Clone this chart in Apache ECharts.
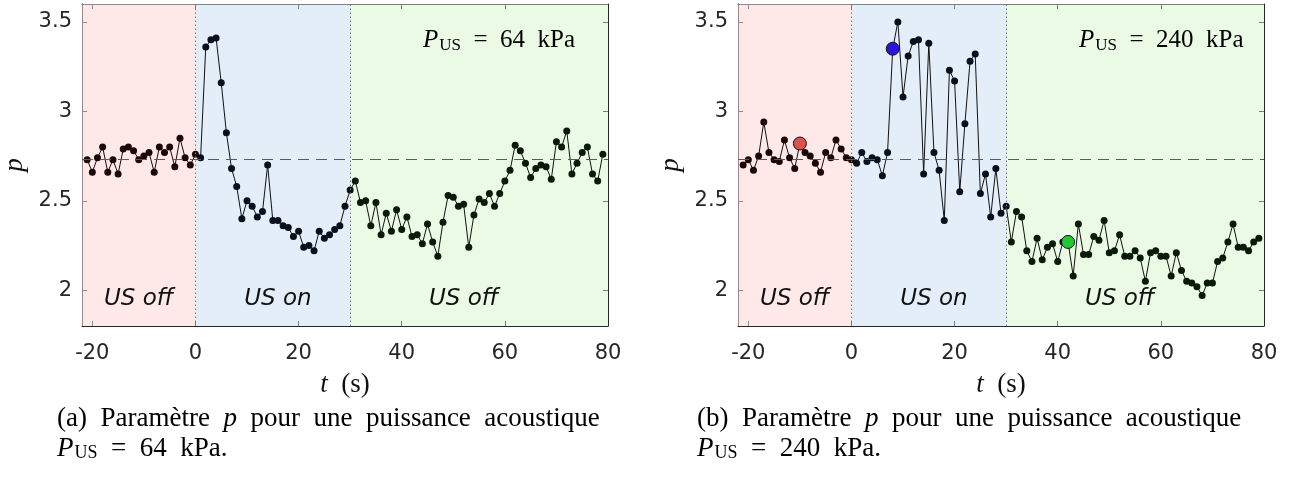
<!DOCTYPE html>
<html>
<head>
<meta charset="utf-8">
<script src="https://cdn.jsdelivr.net/npm/echarts@6/dist/echarts.min.js"></script>
<style>
html,body{margin:0;padding:0;background:#fff;}
#chart{width:1298px;height:479px;}
</style>
</head>
<body>
<div id="chart"></div>
<script>
// ---- data ----
const TIME = [-21,-20,-19,-18,-17,-16,-15,-14,-13,-12,-11,-10,-9,-8,-7,-6,-5,-4,-3,-2,-1,0,
  1,2,3,4,5,6,7,8,9,10,11,12,13,14,15,16,17,18,19,20,21,22,23,24,25,26,27,28,29,30,
  31,32,33,34,35,36,37,38,39,40,41,42,43,44,45,46,47,48,49,50,51,52,53,54,55,56,57,58,59,60,
  61,62,63,64,65,66,67,68,69,70,71,72,73,74,75,76,77,78,79];

const P_64 = [2.73,2.66,2.74,2.80,2.66,2.73,2.65,2.79,2.80,2.78,2.73,2.75,2.77,2.66,2.80,2.77,2.80,2.69,2.85,2.74,2.70,2.76,
  2.74,3.36,3.40,3.41,3.16,2.88,2.68,2.58,2.40,2.50,2.47,2.41,2.44,2.70,2.39,2.39,2.36,2.35,2.30,2.33,2.24,2.25,2.22,2.33,2.29,2.31,2.34,2.36,2.47,2.56,
  2.61,2.49,2.50,2.36,2.49,2.31,2.43,2.33,2.45,2.34,2.41,2.30,2.31,2.26,2.37,2.27,2.19,2.38,2.53,2.52,2.47,2.48,2.24,2.42,2.51,2.49,2.54,2.47,2.54,2.61,
  2.67,2.81,2.78,2.71,2.63,2.68,2.70,2.69,2.62,2.83,2.80,2.89,2.65,2.71,2.77,2.80,2.65,2.61,2.76];

const P_240 = [2.70,2.73,2.67,2.75,2.94,2.77,2.73,2.72,2.84,2.74,2.68,2.82,2.77,2.75,2.71,2.66,2.77,2.74,2.84,2.79,2.74,2.73,
  2.71,2.77,2.72,2.74,2.73,2.64,2.77,3.35,3.50,3.08,3.31,3.39,3.40,2.65,3.38,2.77,2.67,2.39,3.23,3.17,2.55,2.93,3.28,3.32,2.54,2.65,2.41,2.68,2.43,2.47,
  2.27,2.44,2.41,2.22,2.16,2.29,2.17,2.24,2.26,2.16,2.27,2.27,2.08,2.37,2.20,2.20,2.30,2.28,2.39,2.21,2.22,2.31,2.19,2.19,2.22,2.18,2.05,2.21,2.22,2.19,
  2.19,2.08,2.21,2.11,2.05,2.04,2.02,1.97,2.04,2.04,2.16,2.18,2.27,2.37,2.24,2.24,2.22,2.27,2.29];

const X_TICKS = [-20, 0, 20, 40, 60, 80];
const Y_TICKS = [2, 2.5, 3, 3.5];
const BASELINE = 2.73;
const PHASE_EDGES = [-22, 0, 30, 80];
const PHASE_LABELS = ['US off', 'US on', 'US off'];
const PHASE_LABEL_T = [-11, 16, 52];
const HIGHLIGHT_T = [-10, 8, 42];
const PRESSURES = ['64', '240'];
const CAPTION_TAGS = ['(a)', '(b)'];

// ---- styling ----
const X_MIN = -22, X_MAX = 80, Y_MIN = 1.8, Y_MAX = 3.6;
const PHASE_COLORS = ['rgba(255,214,214,0.55)', 'rgba(200,222,241,0.5)', 'rgba(208,245,198,0.45)'];
const TINTS = ['#1c0707', '#07101c', '#081a08'];
const HL_COLORS = ['#d9534f', '#2d12dc', '#22c833'];
const AX = '#262626';
const TICK_FONT = 'DejaVu Sans';
const SERIF = 'Liberation Serif';
const EN = '\u2002';

const GRIDS = [
  {left: 82, top: 4, width: 526, height: 322},
  {left: 738, top: 4, width: 526, height: 322}
];
const CAPTION_LEFT = [57, 697];

const chart = echarts.init(document.getElementById('chart'), null, {renderer: 'canvas'});

const xAxes = [], yAxes = [], series = [], graphics = [];

function phaseIndex(t) {
  if (t <= PHASE_EDGES[1]) return 0;
  if (t <= PHASE_EDGES[2]) return 1;
  return 2;
}

[P_64, P_240].forEach((vals, g) => {
  const tickCfg = {show: true, inside: true, length: 5, lineStyle: {color: AX, width: 1}, customValues: X_TICKS};
  xAxes.push({
    type: 'value', gridIndex: g, min: X_MIN, max: X_MAX, position: 'bottom',
    axisLine: {show: true, onZero: false, lineStyle: {color: AX, width: 1}},
    axisTick: tickCfg,
    axisLabel: {show: true, customValues: X_TICKS, margin: 17, fontSize: 21, fontFamily: TICK_FONT, color: AX,
      formatter: v => String(v)},
    splitLine: {show: false},
    name: '{i|t}{n|' + EN + '(s)}', nameLocation: 'middle', nameGap: 45,
    nameTextStyle: {rich: {
      i: {fontFamily: SERIF, fontStyle: 'italic', fontSize: 27, color: '#111'},
      n: {fontFamily: SERIF, fontSize: 27, color: '#111'}
    }}
  });
  xAxes.push({
    type: 'value', gridIndex: g, min: X_MIN, max: X_MAX, position: 'top',
    axisLine: {show: true, onZero: false, lineStyle: {color: AX, width: 1}},
    axisTick: tickCfg, axisLabel: {show: false}, splitLine: {show: false}
  });
  const yTick = {show: true, inside: true, length: 5, lineStyle: {color: AX, width: 1}, customValues: Y_TICKS};
  yAxes.push({
    type: 'value', gridIndex: g, min: Y_MIN, max: Y_MAX, position: 'left',
    axisLine: {show: true, onZero: false, lineStyle: {color: AX, width: 1}},
    axisTick: yTick,
    axisLabel: {show: true, customValues: Y_TICKS, margin: 10, fontSize: 21, fontFamily: TICK_FONT, color: AX,
      formatter: v => String(v)},
    splitLine: {show: false},
    name: 'p', nameLocation: 'middle', nameGap: 54, nameRotate: 90,
    nameTextStyle: {fontFamily: SERIF, fontStyle: 'italic', fontSize: 27, color: '#111'}
  });
  yAxes.push({
    type: 'value', gridIndex: g, min: Y_MIN, max: Y_MAX, position: 'right',
    axisLine: {show: true, onZero: false, lineStyle: {color: AX, width: 1}},
    axisTick: yTick, axisLabel: {show: false}, splitLine: {show: false}
  });

  const xi = g * 2, yi = g * 2;
  const pts = TIME.map((t, i) => [t, vals[i]]);

  series.push({
    type: 'line', xAxisIndex: xi, yAxisIndex: yi,
    data: pts, symbol: 'circle', symbolSize: 7, showSymbol: true,
    lineStyle: {color: '#111', width: 1},
    itemStyle: {color: p => TINTS[phaseIndex(p.value[0])]},
    z: 3,
    markArea: {
      silent: true,
      data: PHASE_COLORS.map((c, k) => [
        {xAxis: PHASE_EDGES[k], itemStyle: {color: c}},
        {xAxis: PHASE_EDGES[k + 1]}
      ])
    },
    markLine: {
      silent: true, symbol: ['none', 'none'], label: {show: false},
      data: [
        {xAxis: PHASE_EDGES[1], lineStyle: {type: [1.5, 2.5], color: '#777', width: 1}},
        {xAxis: PHASE_EDGES[2], lineStyle: {type: [1.5, 2.5], color: '#777', width: 1}},
        {yAxis: BASELINE, lineStyle: {type: [11, 7], color: '#5a5a5a', width: 1.2}}
      ]
    },
    markPoint: {
      silent: true, symbol: 'rect', symbolSize: 1,
      itemStyle: {color: 'rgba(0,0,0,0)'},
      label: {show: true, position: 'inside', fontFamily: TICK_FONT, fontStyle: 'italic', fontSize: 23, color: '#111'},
      data: PHASE_LABELS.map((s, k) => ({coord: [PHASE_LABEL_T[k], 1.95], value: s, label: {formatter: s}}))
    }
  });

  if (g === 1) {
    series.push({
      type: 'scatter', xAxisIndex: xi, yAxisIndex: yi, z: 5,
      symbolSize: 13,
      data: HIGHLIGHT_T.map((t, k) => ({
        value: [t, vals[TIME.indexOf(t)]],
        itemStyle: {color: HL_COLORS[k], borderColor: '#111', borderWidth: 1, opacity: 1}
      }))
    });
  }

  const gr = GRIDS[g];
  graphics.push({
    type: 'text', left: gr.left + 341, top: 27, z: 10,
    style: {
      text: '{i|P}{s|US}{n|' + EN + '=' + EN + PRESSURES[g] + EN + 'kPa}',
      rich: {
        i: {fontFamily: SERIF, fontStyle: 'italic', fontSize: 25, color: '#111', lineHeight: 30},
        s: {fontFamily: SERIF, fontSize: 17, color: '#111', padding: [10, 0, 0, 1], lineHeight: 30},
        n: {fontFamily: SERIF, fontSize: 25, color: '#111', lineHeight: 30}
      }
    }
  });
  graphics.push({
    type: 'text', left: CAPTION_LEFT[g], top: 405, z: 10,
    style: {
      text: '{n|' + CAPTION_TAGS[g] + EN + 'Paramètre' + EN + '}{i|p}{n|' + EN + 'pour' + EN + 'une' + EN + 'puissance' + EN + 'acoustique}\n' +
            '{i|P}{s|US}{n|' + EN + '=' + EN + PRESSURES[g] + EN + 'kPa.}',
      rich: {
        i: {fontFamily: SERIF, fontStyle: 'italic', fontSize: 27, color: '#111', lineHeight: 30},
        s: {fontFamily: SERIF, fontSize: 18, color: '#111', padding: [10, 0, 0, 1], lineHeight: 30},
        n: {fontFamily: SERIF, fontSize: 27, color: '#111', lineHeight: 30}
      }
    }
  });
});

chart.setOption({
  animation: false,
  backgroundColor: '#fff',
  grid: GRIDS.map(g => Object.assign({containLabel: false, show: false}, g)),
  xAxis: xAxes,
  yAxis: yAxes,
  series: series,
  graphic: graphics
});
</script>
</body>
</html>
